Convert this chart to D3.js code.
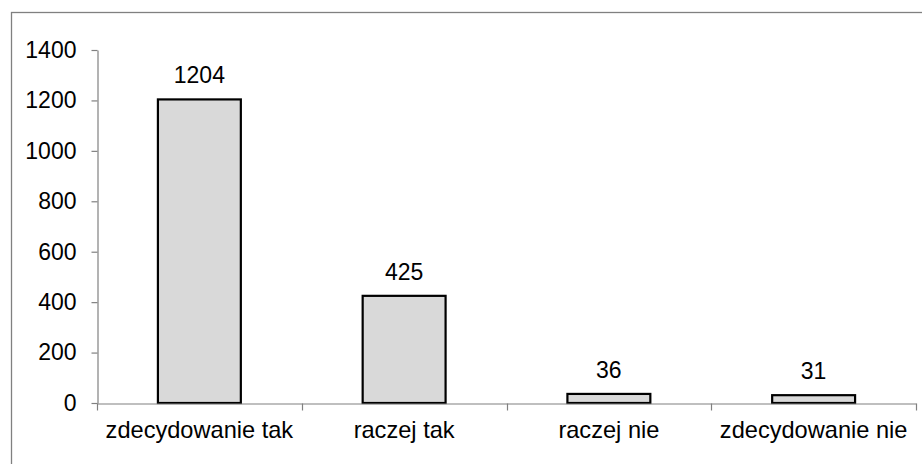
<!DOCTYPE html>
<html>
<head>
<meta charset="utf-8">
<script src="https://cdn.jsdelivr.net/npm/d3@7"></script>
<style>
  html, body { margin: 0; padding: 0; background: #fff; }
  svg { display: block; }
  text { font-family: "Liberation Sans", Arial, sans-serif; fill: #000; }
</style>
</head>
<body>
<svg id="chart" width="922" height="464"></svg>
<script>
// Answer categories and response counts
const categories = ["zdecydowanie tak", "raczej tak", "raczej nie", "zdecydowanie nie"];
const counts = [1204, 425, 36, 31];
const yTicks = [0, 200, 400, 600, 800, 1000, 1200, 1400];

const svg = d3.select("#chart");
const W = 922, H = 464;
const plot = { left: 97, right: 916, top: 50, bottom: 403 };
const numberSize = 23;
const labelSize = 23.6;

// Outer chart frame (runs past the window edges)
svg.append("rect")
  .attr("x", 11.5).attr("y", 12.5)
  .attr("width", W + 20).attr("height", H + 20)
  .attr("fill", "none").attr("stroke", "#808080").attr("stroke-width", 1.3);

const x = d3.scaleBand()
  .domain(categories)
  .range([plot.left, plot.right])
  .paddingInner(0.595)
  .paddingOuter(0.2975);

const y = d3.scaleLinear()
  .domain([0, 1400])
  .range([plot.bottom, plot.top]);

// Y axis
const yAxis = svg.append("g")
  .attr("transform", `translate(${plot.left + 0.5},0)`)
  .call(d3.axisLeft(y).tickValues(yTicks).tickFormat(d3.format("d"))
    .tickSize(6).tickPadding(15).tickSizeOuter(0));
yAxis.select(".domain").attr("stroke", "#808080").attr("stroke-width", 1.2);
yAxis.selectAll(".tick line").attr("stroke", "#808080").attr("stroke-width", 1.2);
yAxis.selectAll(".tick text").style("font-size", numberSize + "px").attr("fill", "#000");

// Bars
svg.append("g").selectAll("rect")
  .data(categories)
  .join("rect")
  .attr("x", d => x(d))
  .attr("y", (d, i) => y(counts[i]))
  .attr("width", x.bandwidth())
  .attr("height", (d, i) => y(0) - y(counts[i]))
  .attr("fill", "#d9d9d9")
  .attr("stroke", "#000")
  .attr("stroke-width", 2.2);

// X axis with ticks on category boundaries
const xAxis = svg.append("g")
  .attr("transform", `translate(0,${plot.bottom + 0.5})`)
  .call(d3.axisBottom(x).tickSize(0).tickPadding(18).tickSizeOuter(0));
xAxis.select(".domain").attr("stroke", "#808080").attr("stroke-width", 1.2);
xAxis.selectAll(".tick text").style("font-size", labelSize + "px").attr("fill", "#000");

const bounds = categories.map((d, i) => x(d) - x.step() * x.paddingOuter()).concat([plot.right]);
xAxis.append("g").selectAll("line")
  .data(bounds)
  .join("line")
  .attr("x1", d => Math.round(d) + 0.5).attr("x2", d => Math.round(d) + 0.5)
  .attr("y1", 0).attr("y2", 7)
  .attr("stroke", "#808080").attr("stroke-width", 1.2);

// Value labels above bars
svg.append("g").selectAll("text")
  .data(categories)
  .join("text")
  .attr("x", d => x(d) + x.bandwidth() / 2)
  .attr("y", (d, i) => y(counts[i]) - 16)
  .attr("text-anchor", "middle")
  .style("font-size", numberSize + "px")
  .text((d, i) => counts[i]);
</script>
</body>
</html>
